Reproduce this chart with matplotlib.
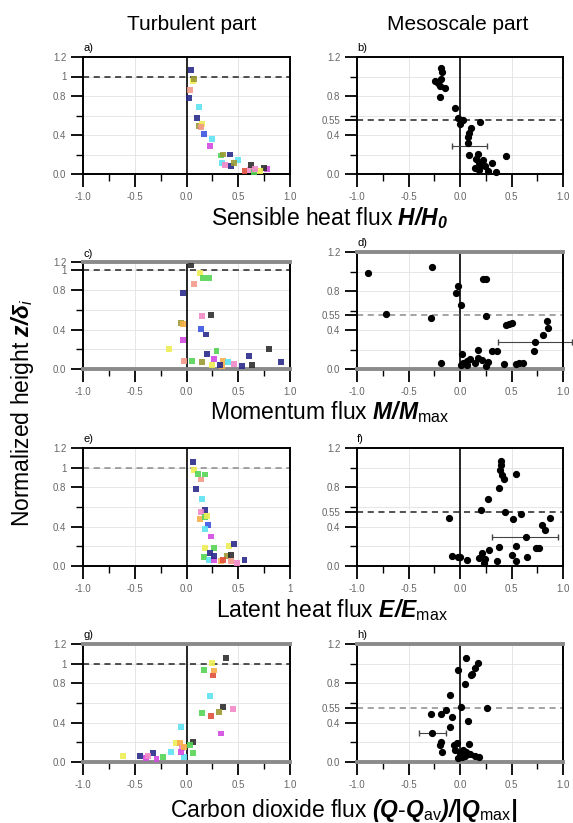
import matplotlib as mpl
mpl.use("Agg")
import matplotlib.pyplot as plt
from matplotlib.ticker import FixedLocator

plt.rcParams.update({
	"font.family": ["Liberation Sans", "DejaVu Sans"],
	"mathtext.fontset": "custom",
	"mathtext.rm": "Liberation Sans",
	"mathtext.it": "Liberation Sans:italic",
	"mathtext.bf": "Liberation Sans:italic:bold",
})

W, H = 573, 823

# colour codes of the flights (turbulent panels)
PALETTE = {
	"k": "#2e2e2e", "n": "#2b2b8c", "b": "#3a55e0", "c": "#5ee3f2",
	"g": "#55d455", "o": "#9b9a35", "y": "#eeee55", "r": "#e0503c",
	"s": "#f39a88", "p": "#f388c8", "m": "#d24ae0", "a": "#f7b048",
}

# a) turbulent part, sensible heat
a_x = [0.04, 0.06, 0.07, 0.03, 0.02, 0.12, 0.10, 0.12, 0.15, 0.14, 0.17, 0.25, 0.23, 0.33, 0.35,
       0.42, 0.50, 0.34, 0.37, 0.43, 0.46, 0.61, 0.56, 0.62, 0.78, 0.75, 0.65, 0.71, 0.66]
a_y = [1.07, 0.95, 0.97, 0.86, 0.78, 0.69, 0.57, 0.49, 0.51, 0.48, 0.41, 0.36, 0.29, 0.19, 0.20,
       0.20, 0.14, 0.11, 0.09, 0.08, 0.11, 0.04, 0.03, 0.09, 0.05, 0.06, 0.02, 0.03, 0.05]
a_c = list("nyosncnoysbcmgonccpnoprkmkgyp")

# b) mesoscale part, sensible heat
b_x = [-0.18, -0.17, -0.24, -0.21, -0.18, -0.15, -0.19, -0.19, -0.05, -0.02, 0.00, 0.03, 0.11, 0.09,
       0.08, 0.08, 0.19, 0.09, 0.17, 0.16, 0.18, 0.21, 0.15, 0.18, 0.24, 0.31, 0.35, 0.45, 0.27, 0.22]
b_y = [1.09, 1.05, 0.95, 0.93, 0.97, 0.88, 0.90, 0.79, 0.68, 0.57, 0.51, 0.55, 0.47, 0.42,
       0.38, 0.32, 0.53, 0.19, 0.21, 0.15, 0.11, 0.09, 0.06, 0.04, 0.08, 0.11, 0.02, 0.18, 0.03, 0.14]
b_err = (0.09, 0.29, 0.17)  # x, y, half width

# c) turbulent part, momentum
c_x = [0.04, 0.13, 0.16, 0.22, 0.07, -0.03, 0.15, 0.24, -0.05, -0.03, 0.14, 0.19, -0.03, -0.17, 0.29,
       0.20, 0.80, 0.60, -0.02, 0.05, 0.15, 0.27, 0.25, 0.35, 0.40, 0.34, 0.46, 0.54, 0.63, 0.91, 0.32]
c_y = [1.05, 0.97, 0.92, 0.92, 0.86, 0.77, 0.54, 0.55, 0.47, 0.46, 0.41, 0.35, 0.29, 0.20, 0.18,
       0.15, 0.20, 0.13, 0.08, 0.08, 0.07, 0.10, 0.04, 0.08, 0.07, 0.03, 0.05, 0.03, 0.04, 0.07, 0.04]
c_c = list("kyggsnpkoabnmygnknsgomyacapnknn")

# d) mesoscale part, momentum
d_x = [-0.89, -0.27, -0.72, -0.28, -0.18, -0.02, -0.04, 0.01, 0.22, 0.25, 0.25, 0.45, 0.50, 0.48,
       0.84, 0.85, 0.81, 0.73, 0.72, 0.02, 0.03, 0.07, 0.10, 0.17, 0.17, 0.21, 0.27, 0.25, 0.31,
       0.36, 0.43, 0.54, 0.57, 0.61, 0.07, 0.15, 0.01]
d_y = [0.98, 1.05, 0.56, 0.52, 0.06, 0.85, 0.78, 0.66, 0.92, 0.92, 0.54, 0.45, 0.47, 0.46,
       0.49, 0.42, 0.35, 0.28, 0.18, 0.15, 0.06, 0.08, 0.10, 0.20, 0.11, 0.09, 0.07, 0.03, 0.18,
       0.18, 0.05, 0.05, 0.06, 0.06, 0.04, 0.06, 0.04]
d_err = (0.73, 0.28, 0.36)

# e) turbulent part, latent heat
e_x = [0.06, 0.07, 0.11, 0.14, 0.18, 0.09, 0.15, 0.18, 0.14, 0.13, 0.18, 0.20, 0.21, 0.18, 0.24,
       0.18, 0.27, 0.23, 0.41, 0.46, 0.39, 0.43, 0.17, 0.22, 0.27, 0.33, 0.35, 0.43, 0.49, 0.56, 0.27]
e_y = [1.06, 0.98, 0.94, 0.88, 0.93, 0.78, 0.68, 0.57, 0.55, 0.48, 0.50, 0.51, 0.42, 0.38, 0.30,
       0.18, 0.18, 0.13, 0.20, 0.22, 0.10, 0.11, 0.09, 0.06, 0.06, 0.05, 0.06, 0.05, 0.03, 0.06, 0.10]
e_c = list("nygsgncnpagybcmygnynokgcmarspnn")

# f) mesoscale part, latent heat
f_x = [0.40, 0.40, 0.39, 0.41, 0.43, 0.54, 0.38, 0.27, 0.20, 0.44, 0.51, 0.59, 0.87, 0.80, 0.83,
       -0.11, 0.64, 0.38, 0.28, 0.21, 0.54, 0.74, 0.77, -0.08, 0.00, 0.07, 0.18, 0.23, 0.36, 0.50,
       0.54, 0.65, 0.24, -0.02]
f_y = [1.07, 1.03, 0.98, 0.93, 0.88, 0.94, 0.79, 0.68, 0.57, 0.55, 0.48, 0.53, 0.49, 0.42, 0.37,
       0.49, 0.30, 0.19, 0.16, 0.13, 0.20, 0.18, 0.18, 0.10, 0.09, 0.06, 0.08, 0.03, 0.05, 0.11,
       0.05, 0.09, 0.07, 0.09]
f_err = (0.63, 0.30, 0.32)

# g) turbulent part, carbon dioxide
g_x = [0.38, 0.25, 0.17, 0.27, 0.26, 0.23, 0.35, 0.45, 0.15, 0.24, 0.31, 0.33, -0.05, -0.10, -0.06,
       0.06, 0.03, -0.04, -0.15, 0.06, -0.32, -0.39, -0.45, -0.37, -0.29, -0.23, -0.61, -0.02,
       -0.05, -0.02]
g_y = [1.06, 1.01, 0.94, 0.93, 0.88, 0.67, 0.56, 0.54, 0.50, 0.47, 0.51, 0.29, 0.36, 0.19, 0.19,
       0.20, 0.17, 0.14, 0.10, 0.09, 0.09, 0.04, 0.06, 0.06, 0.03, 0.05, 0.06, 0.05, 0.10, 0.15]
g_c = list("kygarckpgromcyakgpcgnmnpmgycma")

# h) mesoscale part, carbon dioxide
h_x = [0.06, 0.17, 0.15, 0.12, 0.11, -0.02, 0.05, -0.10, 0.01, 0.26, -0.28, -0.18, -0.14, -0.08,
       0.08, -0.10, -0.27, -0.18, -0.19, -0.17, -0.06, -0.03, 0.09, -0.05, 0.00, 0.02, 0.05, 0.10,
       0.15, 0.18, -0.02, 0.06, 0.03]
h_y = [1.06, 1.01, 0.96, 0.90, 0.88, 0.94, 0.79, 0.68, 0.56, 0.55, 0.49, 0.49, 0.53, 0.46,
       0.42, 0.36, 0.29, 0.20, 0.17, 0.10, 0.17, 0.19, 0.18, 0.12, 0.09, 0.05, 0.06, 0.08,
       0.06, 0.05, 0.04, 0.10, 0.12]
h_err = (-0.27, 0.29, 0.13)

X_TICKS = [-1.0, -0.5, 0.0, 0.5, 1.0]
X_LABELS = ["-1.0", "-0.5", "0.0", "0.5", "1.0"]


def rect(l, t, r, b):
	return [l / W, 1 - b / H, (r - l) / W, (b - t) / H]


def style(ax, letter, ref, ref_label, dash_color, heavy, top=1.2, xlabels=X_LABELS):
	ax.set_xlim(-1, 1)
	ax.set_ylim(0, top)
	ax.set_xticks(X_TICKS)
	ax.set_xticklabels(xlabels)
	ax.xaxis.set_minor_locator(FixedLocator([-0.75, -0.25, 0.25, 0.75]))
	ax.set_yticks([0.0, 0.4, 0.8, ref, top])
	ax.set_yticklabels(["0.0", "0.4", "0.8", ref_label, "1.2"])
	ax.yaxis.set_minor_locator(FixedLocator([0.2, 0.6, 1.0]))
	ax.tick_params(which="major", direction="out", length=9, width=1.3, labelsize=7,
		labelcolor="#666666")
	ax.tick_params(which="minor", direction="out", length=5, width=1.0)
	ax.tick_params(axis="x", which="major", pad=4)
	ax.tick_params(axis="y", which="major", pad=3)
	for v in [-0.5, 0.5]:
		ax.axvline(v, color="#e2e2e2", lw=0.6, zorder=0)
	for v in [0.2, 0.4, 0.6, 0.8, 1.0]:
		if v < top:
			ax.axhline(v, color="#e2e2e2", lw=0.6, zorder=0)
	ax.axvline(0, color="black", lw=1.2, zorder=1)
	ax.axhline(ref, color=dash_color, lw=1.1, ls=(0, (4, 3)), zorder=1)
	for s in ["left", "right"]:
		ax.spines[s].set_linewidth(1.4)
	for s in ["top", "bottom"]:
		if heavy:
			ax.spines[s].set_linewidth(2.8)
			ax.spines[s].set_color("#8a8a8a")
		else:
			ax.spines[s].set_linewidth(1.4)
	ax.text(0.0, 1.03, letter, transform=ax.transAxes, fontsize=8, ha="left", va="bottom")


def turb(ax, xs, ys, cs):
	ax.scatter(xs, ys, c=[PALETTE[c] for c in cs], marker="s", s=18, linewidths=0,
		alpha=0.9, zorder=3, clip_on=False)


def meso(ax, xs, ys, err):
	ax.plot(xs, ys, "o", color="black", ms=4.2, zorder=3, clip_on=False)
	ex, ey, ew = err
	ax.errorbar([ex], [ey], xerr=[ew], fmt="none", ecolor="#444444", elinewidth=0.8,
		capsize=2, zorder=2, clip_on=False)


fig = plt.figure(figsize=(W / 100, H / 100), dpi=100)

ax_a = fig.add_axes(rect(83, 57, 290, 174))
ax_b = fig.add_axes(rect(357, 57, 563, 174))
ax_c = fig.add_axes(rect(83, 262, 290, 369))
ax_d = fig.add_axes(rect(357, 252, 563, 369))
ax_e = fig.add_axes(rect(83, 448, 290, 566))
ax_f = fig.add_axes(rect(357, 448, 563, 566))
ax_g = fig.add_axes(rect(83, 644, 290, 762))
ax_h = fig.add_axes(rect(357, 644, 563, 762))

turb(ax_a, a_x, a_y, a_c)
meso(ax_b, b_x, b_y, b_err)
turb(ax_c, c_x, c_y, c_c)
meso(ax_d, d_x, d_y, d_err)
turb(ax_e, e_x, e_y, e_c)
meso(ax_f, f_x, f_y, f_err)
turb(ax_g, g_x, g_y, g_c)
meso(ax_h, h_x, h_y, h_err)

style(ax_a, "a)", 1.0, "1", "#222222", False)
style(ax_b, "b)", 0.55, "0.55", "#222222", False)
style(ax_c, "c)", 1.0, "1", "#222222", True, top=1.085)
style(ax_d, "d)", 0.55, "0.55", "#8a8a8a", True)
style(ax_e, "e)", 1.0, "1", "#8a8a8a", False, xlabels=X_LABELS[:4] + ["1"])
style(ax_f, "f)", 0.55, "0.55", "#222222", False)
style(ax_g, "g)", 1.0, "1", "#222222", True)
style(ax_h, "h)", 0.55, "0.55", "#8a8a8a", True)

# column titles
fig.text(192 / W, 1 - 25 / H, "Turbulent part", ha="center", va="center", fontsize=15)
fig.text(458 / W, 1 - 25 / H, "Mesoscale part", ha="center", va="center", fontsize=15)

# row labels
LBL = 16.5
fig.text(330 / W, 1 - 218 / H, r"Sensible heat flux $\mathbf{H/H}_{\mathbf{0}}$",
	ha="center", va="center", fontsize=LBL)
fig.text(330 / W, 1 - 412 / H, r"Momentum flux $\mathbf{M/M}_{\mathrm{max}}$",
	ha="center", va="center", fontsize=LBL)
fig.text(332 / W, 1 - 610 / H, r"Latent heat flux $\mathbf{E/E}_{\mathrm{max}}$",
	ha="center", va="center", fontsize=LBL)
fig.text(344 / W, 1 - 810 / H, r"Carbon dioxide flux $\mathbf{(Q}$-$\mathbf{Q}_{\mathrm{av}}\mathbf{)/|Q}_{\mathrm{max}}\mathbf{|}$",
	ha="center", va="center", fontsize=LBL)
fig.text(23 / W, 1 - 413 / H, r"Normalized height $\mathbf{z/δ}_{i}$", rotation=90,
	ha="center", va="center", fontsize=LBL)

fig.savefig("out.png", dpi=100, facecolor="white")
